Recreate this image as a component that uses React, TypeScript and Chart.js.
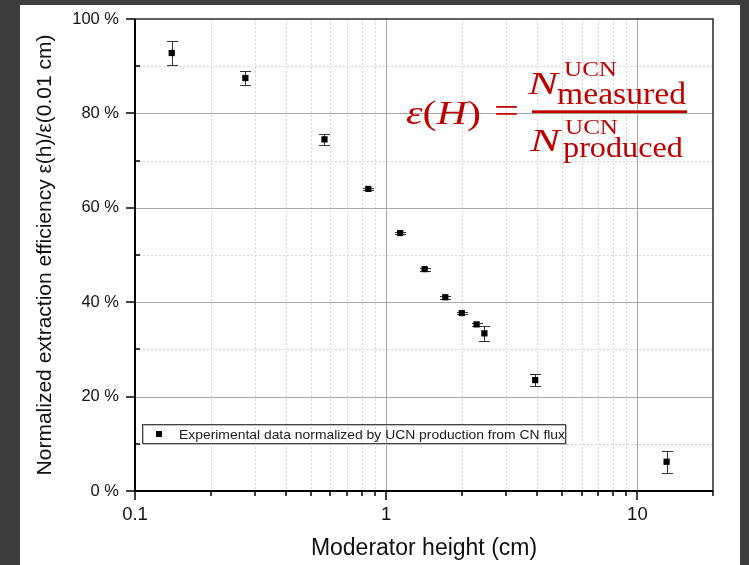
import React, { useEffect, useRef } from 'react';
import { Chart, registerables } from 'chart.js';

Chart.register(...registerables);

// ---------- data ----------
const heights = [0.14, 0.275, 0.568, 0.849, 1.137, 1.423, 1.719, 2.0, 2.29, 2.46, 3.92, 13.07];
const efficiency = [92.8, 87.5, 74.5, 64.0, 54.65, 47.0, 41.05, 37.7, 35.3, 33.4, 23.5, 6.2];
const errors = [2.6, 1.4, 1.2, 0.25, 0.3, 0.3, 0.3, 0.3, 0.3, 1.6, 1.2, 2.35];

const xTickValues = [0.1, 0.2, 0.3, 0.4, 0.5, 0.6, 0.7, 0.8, 0.9, 1, 2, 3, 4, 5, 6, 7, 8, 9, 10, 20];
const xMajorLabels = [0.1, 1, 10];
const yTickValues = [0, 10, 20, 30, 40, 50, 60, 70, 80, 90, 100];
const yLabelValues = [0, 20, 40, 60, 80, 100];

const seriesLabel = 'Experimental data normalized by UCN production from CN flux';
const xTitle = 'Moderator height (cm)';
const yTitle = 'Normalized extraction efficiency \u03b5(h)/\u03b5(0.01 cm)';

const eqLeft = ['\u03b5', '(', 'H', ')'];
const eqEquals = '=';
const eqN = 'N';
const eqSup = 'UCN';
const eqNumSub = 'measured';
const eqDenSub = 'produced';

const SANS = "'Liberation Sans', Arial, Helvetica, sans-serif";
const SERIF = "'Liberation Serif', 'Times New Roman', serif";
const RED = '#c00000';

const W = 749;
const H = 565;

function fitText(ctx: CanvasRenderingContext2D, text: string, x: number, base: number, width: number, font: string) {
  ctx.font = font;
  const w = ctx.measureText(text).width;
  ctx.save();
  ctx.translate(x, base);
  ctx.scale(width / w, 1);
  ctx.fillText(text, 0, 0);
  ctx.restore();
}

const bgPlugin = {
  id: 'bgPanel',
  beforeDraw(chart: any) {
    const ctx = chart.ctx;
    ctx.save();
    ctx.fillStyle = '#3e3e3e';
    ctx.fillRect(0, 0, W, H);
    ctx.fillStyle = '#ffffff';
    ctx.fillRect(20, 5, 720, H - 5);
    ctx.restore();
  },
};

const gridPlugin = {
  id: 'gridAndErrors',
  beforeDatasetsDraw(chart: any) {
    const { ctx, chartArea, scales } = chart;
    const { left, right, top, bottom } = chartArea;
    const x = scales.x;
    const y = scales.y;
    ctx.save();
    ctx.lineWidth = 1;
    for (const v of xTickValues) {
      if (v === xTickValues[0] || v === xTickValues[xTickValues.length - 1]) continue;
      const major = xMajorLabels.includes(v);
      const px = Math.round(x.getPixelForValue(v)) + 0.5;
      ctx.strokeStyle = major ? '#a9a9a9' : '#d4d4d4';
      ctx.setLineDash(major ? [] : [2, 2]);
      ctx.beginPath();
      ctx.moveTo(px, top);
      ctx.lineTo(px, bottom);
      ctx.stroke();
    }
    for (const v of yTickValues) {
      if (v === 0 || v === 100) continue;
      const major = yLabelValues.includes(v);
      const py = Math.round(y.getPixelForValue(v)) + 0.5;
      ctx.strokeStyle = major ? '#a9a9a9' : '#d4d4d4';
      ctx.setLineDash(major ? [] : [2, 2]);
      ctx.beginPath();
      ctx.moveTo(left, py);
      ctx.lineTo(right, py);
      ctx.stroke();
    }
    ctx.setLineDash([]);
    // error bars
    ctx.strokeStyle = '#333';
    ctx.lineWidth = 1;
    heights.forEach((h, i) => {
      const px = Math.round(x.getPixelForValue(h)) + 0.5;
      const pt = Math.round(y.getPixelForValue(efficiency[i] + errors[i])) + 0.5;
      const pb = Math.round(y.getPixelForValue(efficiency[i] - errors[i])) + 0.5;
      const cap = 5.5;
      ctx.beginPath();
      ctx.moveTo(px, pt);
      ctx.lineTo(px, pb);
      ctx.moveTo(px - cap, pt);
      ctx.lineTo(px + cap, pt);
      ctx.moveTo(px - cap, pb);
      ctx.lineTo(px + cap, pb);
      ctx.stroke();
    });
    ctx.restore();
  },
  afterDatasetsDraw(chart: any) {
    const { ctx, chartArea, scales } = chart;
    const { left, right, top, bottom } = chartArea;
    const x = scales.x;
    const y = scales.y;
    ctx.save();
    // frame top/right
    ctx.strokeStyle = '#2a2a2a';
    ctx.lineWidth = 1.5;
    ctx.beginPath();
    ctx.moveTo(left, top);
    ctx.lineTo(right, top);
    ctx.lineTo(right, bottom);
    ctx.stroke();
    // axes left/bottom
    ctx.strokeStyle = '#000';
    ctx.lineWidth = 2;
    ctx.beginPath();
    ctx.moveTo(left, top);
    ctx.lineTo(left, bottom);
    ctx.lineTo(right, bottom);
    ctx.stroke();
    // x ticks
    ctx.lineWidth = 1.5;
    for (const v of xTickValues) {
      const major = xMajorLabels.includes(v);
      const px = Math.round(x.getPixelForValue(v));
      ctx.beginPath();
      ctx.moveTo(px, bottom);
      ctx.lineTo(px, bottom + (major ? 9 : 5));
      ctx.stroke();
    }
    // y ticks
    for (const v of yTickValues) {
      const major = yLabelValues.includes(v);
      const py = Math.round(y.getPixelForValue(v));
      ctx.beginPath();
      if (major) {
        ctx.moveTo(left - 9, py);
        ctx.lineTo(left, py);
      } else {
        ctx.moveTo(left, py);
        ctx.lineTo(left + 5, py);
      }
      ctx.stroke();
    }
    ctx.restore();
  },
  afterDraw(chart: any) {
    const ctx = chart.ctx;
    ctx.save();
    // legend box
    ctx.strokeStyle = '#bdbdbd';
    ctx.lineWidth = 1;
    ctx.strokeRect(143.5, 425.5, 423, 19);
    ctx.strokeStyle = '#444';
    ctx.strokeRect(142.5, 424.5, 423, 19);
    ctx.fillStyle = '#000';
    ctx.fillRect(156, 431, 6, 6);
    ctx.fillStyle = '#1a1a1a';
    ctx.textBaseline = 'alphabetic';
    fitText(ctx, seriesLabel, 179, 439, 386, `13.5px ${SANS}`);

    // equation
    ctx.fillStyle = RED;
    const fonts = [`italic 33px ${SERIF}`, `33px ${SERIF}`, `italic 33px ${SERIF}`, `33px ${SERIF}`];
    let total = 0;
    const widths: number[] = [];
    eqLeft.forEach((s, i) => {
      ctx.font = fonts[i];
      const w = ctx.measureText(s).width;
      widths.push(w);
      total += w;
    });
    const sc = 75 / total;
    let cx = 406;
    eqLeft.forEach((s, i) => {
      ctx.font = fonts[i];
      ctx.save();
      ctx.translate(cx, 123.5);
      ctx.scale(sc, 1);
      ctx.fillText(s, 0, 0);
      ctx.restore();
      cx += widths[i] * sc;
    });
    fitText(ctx, eqEquals, 494, 122, 25, `33px ${SERIF}`);
    ctx.fillRect(532, 110.3, 155, 2.8);
    // numerator
    fitText(ctx, eqN, 528, 93.5, 30, `italic 32px ${SERIF}`);
    fitText(ctx, eqSup, 564, 76, 53, `21px ${SERIF}`);
    fitText(ctx, eqNumSub, 557, 103.5, 129, `31px ${SERIF}`);
    // denominator
    fitText(ctx, eqN, 530, 150.5, 30, `italic 32px ${SERIF}`);
    fitText(ctx, eqSup, 565, 134, 53, `21px ${SERIF}`);
    fitText(ctx, eqDenSub, 563, 157, 120, `30px ${SERIF}`);
    ctx.restore();
  },
};

export default function App() {
  const ref = useRef<HTMLCanvasElement | null>(null);
  useEffect(() => {
    if (!ref.current) return;
    const chart = new Chart(ref.current, {
      type: 'scatter',
      data: {
        datasets: [
          {
            label: seriesLabel,
            data: heights.map((h, i) => ({ x: h, y: efficiency[i] })),
            pointStyle: 'rect',
            pointRadius: 4.4,
            pointHoverRadius: 4.4,
            backgroundColor: '#000',
            borderColor: '#000',
            borderWidth: 0,
            showLine: false,
          },
        ],
      },
      options: {
        responsive: false,
        animation: false,
        devicePixelRatio: 1,
        layout: { padding: { left: 0, top: 19, right: 36, bottom: 0 } },
        plugins: { legend: { display: false }, tooltip: { enabled: false } },
        scales: {
          x: {
            type: 'logarithmic',
            min: 0.1,
            max: 20,
            afterBuildTicks: (s: any) => {
              s.ticks = xTickValues.map((v) => ({ value: v }));
            },
            afterFit: (s: any) => {
              s.height = 74;
              s.paddingLeft = 0;
              s.paddingRight = 0;
            },
            grid: { display: false, drawTicks: false },
            border: { display: false },
            ticks: {
              autoSkip: false,
              maxRotation: 0,
              minRotation: 0,
              padding: 13,
              color: '#111',
              font: { family: SANS, size: 18.5 },
              callback: (v: any) => (xMajorLabels.includes(Number(v)) ? String(v) : ''),
            },
            title: {
              display: true,
              text: xTitle,
              color: '#111',
              font: { family: SANS, size: 23 },
              padding: { top: 0, bottom: 2.5 },
            },
          },
          y: {
            min: 0,
            max: 100,
            afterBuildTicks: (s: any) => {
              s.ticks = yLabelValues.map((v) => ({ value: v }));
            },
            afterFit: (s: any) => {
              s.width = 135;
              s.paddingTop = 0;
              s.paddingBottom = 0;
            },
            grid: { display: false, drawTicks: false },
            border: { display: false },
            ticks: {
              padding: 16,
              color: '#111',
              font: { family: SANS, size: 16.5 },
              callback: (v: any) => `${v} %`,
            },
            title: {
              display: true,
              text: yTitle,
              color: '#111',
              font: { family: SANS, size: 21 },
              padding: { top: 33, bottom: 0 },
            },
          },
        },
      },
      plugins: [bgPlugin, gridPlugin],
    } as any);
    return () => chart.destroy();
  }, []);
  return (
    <div style={{ position: 'fixed', left: 0, top: 0, width: W, height: H }}>
      <canvas ref={ref} width={W} height={H} style={{ display: 'block', width: W, height: H }} />
    </div>
  );
}
